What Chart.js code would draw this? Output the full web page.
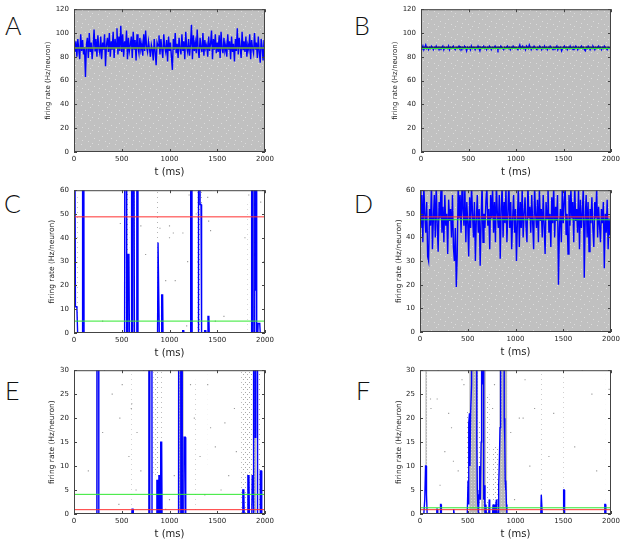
<!DOCTYPE html>
<html>
<head>
<meta charset="utf-8">
<script src="https://cdn.jsdelivr.net/npm/chart.js@4.4.1/dist/chart.umd.min.js"></script>
<style>
  html, body { margin: 0; padding: 0; background: #fff; }
  #fig { position: relative; width: 625px; height: 540px; overflow: hidden; }
  .panel { position: absolute; }
  .tag { position: absolute; font-family: Lato, 'Open Sans', sans-serif; font-weight: 300; font-size: 25px; line-height: 1; color: #111; }
</style>
</head>
<body>
<div id="fig">
  <div class="tag" style="left:5px;top:13px">A</div>
  <div class="tag" style="left:354px;top:13px">B</div>
  <div class="tag" style="left:4px;top:191px">C</div>
  <div class="tag" style="left:354px;top:191px">D</div>
  <div class="tag" style="left:5px;top:378px">E</div>
  <div class="tag" style="left:356px;top:378px">F</div>
  <canvas id="cA" class="panel" width="250" height="178" style="left:28px;top:0px"></canvas>
  <canvas id="cB" class="panel" width="250" height="178" style="left:374px;top:0px"></canvas>
  <canvas id="cC" class="panel" width="250" height="178" style="left:28px;top:181px"></canvas>
  <canvas id="cD" class="panel" width="250" height="177" style="left:374px;top:181px"></canvas>
  <canvas id="cE" class="panel" width="250" height="179" style="left:28px;top:361px"></canvas>
  <canvas id="cF" class="panel" width="250" height="179" style="left:374px;top:361px"></canvas>
</div>
<script>
// bin width of the population rate traces in A, B, D (ms)
const BIN_MS = 10;

// population rate, panel A (one value per 10 ms bin)
const aRate = [
  90, 84, 93, 80, 95, 86, 78, 99, 85, 94,
  82, 88, 63, 90, 96, 79, 100, 84, 92, 78,
  88, 103, 85, 95, 80, 98, 87, 83, 97, 78,
  92, 86, 99, 72, 90, 96, 84, 100, 80, 93,
  86, 101, 79, 95, 88, 104, 82, 97, 85, 106,
  84, 99, 80, 93, 87, 102, 78, 96, 85, 90,
  97, 79, 101, 86, 94, 77, 99, 88, 83, 96,
  86, 91, 81, 99, 85, 102, 88, 84, 93, 87,
  80, 90, 86, 77, 95, 84, 73, 92, 89, 98,
  82, 95, 86, 79, 99, 88, 84, 94, 76, 97,
  85, 92, 80, 69, 95, 86, 100, 83, 91, 79,
  96, 87, 82, 99, 85, 93, 78, 101, 88, 84,
  95, 81, 90, 107, 78, 98, 85, 92, 83, 103,
  86, 79, 96, 88, 84, 100, 81, 94, 87, 90,
  80, 97, 85, 91, 102, 78, 95, 86, 99, 83,
  92, 84, 98, 79, 101, 87, 83, 96, 85, 90,
  80, 99, 86, 93, 78, 97, 84, 91, 76, 95,
  85, 104, 82, 96, 88, 79, 101, 86, 93, 84,
  97, 80, 90, 86, 99, 78, 94, 87, 83, 100,
  86, 92, 79, 97, 84, 75, 95, 88, 77, 94
];

// population rate, panel B
const bRate = [
  88, 87, 89, 86, 88, 90, 87, 88, 86, 88,
  87, 89, 88, 86, 88, 87, 89, 87, 88, 86,
  88, 87, 88, 89, 86, 88, 87, 88, 87, 89,
  86, 88, 87, 88, 89, 87, 86, 88, 87, 88,
  89, 87, 88, 86, 88, 87, 89, 88, 85, 88,
  87, 88, 86, 89, 87, 88, 88, 86, 88, 87,
  89, 87, 85, 88, 87, 88, 89, 87, 88, 86,
  88, 87, 89, 88, 86, 88, 87, 88, 89, 87,
  88, 86, 88, 87, 89, 88, 87, 86, 88, 87,
  88, 89, 87, 88, 86, 88, 87, 89, 88, 87,
  88, 87, 86, 88, 90, 87, 88, 89, 87, 88,
  86, 89, 88, 87, 90, 88, 86, 88, 87, 89,
  88, 87, 86, 88, 87, 89, 88, 86, 88, 87,
  89, 87, 88, 86, 88, 87, 89, 88, 87, 86,
  88, 87, 88, 89, 86, 88, 87, 88, 85, 87,
  88, 89, 87, 88, 86, 88, 87, 89, 87, 88,
  86, 88, 87, 89, 88, 86, 88, 87, 88, 89,
  87, 88, 86, 85, 88, 87, 89, 88, 86, 88,
  87, 89, 88, 86, 88, 87, 88, 89, 87, 88,
  86, 88, 87, 89, 88, 87, 86, 88, 87, 88
];

// population rate, panel D (values above 60 are cut by the axis)
const dRate = [
  64, 44, 58, 38, 62, 50, 42, 55, 32, 30,
  52, 45, 63, 35, 48, 58, 40, 62, 46, 34,
  55, 48, 61, 42, 53, 38, 58, 45, 50, 33,
  56, 47, 52, 40, 58, 36, 30, 44, 19, 33,
  63, 48, 58, 42, 62, 52, 45, 61, 38, 55,
  46, 32, 57, 44, 62, 50, 40, 55, 30, 48,
  58, 42, 52, 28, 47, 63, 38, 50, 44, 55,
  62, 45, 52, 35, 58, 48, 61, 42, 55, 38,
  63, 50, 44, 58, 31, 52, 62, 40, 55, 46,
  61, 38, 50, 64, 44, 55, 35, 48, 58, 42,
  52, 30, 47, 62, 36, 55, 44, 61, 40, 50,
  57, 45, 38, 63, 48, 53, 42, 58, 46, 35,
  62, 50, 44, 56, 38, 61, 47, 52, 40, 58,
  45, 33, 55, 48, 63, 42, 50, 36, 57, 46,
  62, 40, 53, 47, 58, 20, 44, 52, 38, 61,
  46, 55, 62, 41, 50, 33, 58, 45, 61, 48,
  55, 38, 63, 47, 52, 42, 61, 35, 56, 44,
  50, 62, 23, 48, 58, 40, 55, 34, 52, 46,
  57, 44, 36, 55, 48, 61, 40, 53, 45, 38,
  52, 46, 55, 27, 50, 42, 56, 35, 48, 41
];

// bursty traces: time (ms) and rate, panels C, E, F (200 = off the top)
const cTimes = [0, 8, 15, 30, 38, 85, 90, 100, 105, 530, 535, 545, 552, 560, 563, 575, 580, 600, 603, 612, 618, 628, 633, 655, 658, 665, 670,
  875, 880, 888, 893, 915, 918, 928, 932, 1135, 1138, 1148, 1150, 1218, 1222, 1232, 1237, 1300, 1304, 1315, 1320, 1330, 1336,
  1365, 1368, 1380, 1383, 1400, 1403, 1412, 1416, 1855, 1860, 1870, 1875, 1885, 1890, 1895, 1903, 1908, 1913, 1925, 1928, 1945, 1950, 2000];
const cRates = [200, 200, 11, 11, 0, 0, 200, 200, 0, 0, 200, 200, 0, 0, 33, 33, 0, 0, 200, 0, 200, 200, 0, 0, 200, 200, 0,
  0, 38, 38, 0, 0, 16, 16, 0, 0, 1, 1, 0, 0, 200, 200, 0, 0, 200, 200, 54, 54, 0,
  0, 1, 1, 0, 0, 7, 7, 0, 0, 200, 200, 0, 0, 200, 18, 18, 200, 0, 0, 4, 4, 0, 0];

const eTimes = [0, 240, 245, 255, 260, 605, 608, 618, 621, 780, 785, 793, 800, 812, 817, 865, 868, 878, 882, 888, 890, 897, 900, 905, 908, 918, 922,
  1095, 1100, 1112, 1118, 1120, 1130, 1134, 1150, 1153, 1165, 1170, 1765, 1768, 1778, 1782, 1818, 1821, 1832, 1836,
  1862, 1866, 1875, 1878, 1880, 1884, 1893, 1897, 1903, 1918, 1922, 1948, 1951, 1962, 1966, 2000];
const eRates = [0, 0, 200, 200, 0, 0, 1, 1, 0, 0, 200, 0, 200, 200, 0, 0, 7, 7, 0, 0, 8, 8, 0, 0, 15, 15, 0,
  0, 200, 200, 0, 200, 200, 0, 0, 16, 16, 0, 0, 5, 5, 0, 0, 8, 8, 0,
  0, 8, 8, 0, 0, 200, 200, 16, 200, 200, 0, 0, 9, 9, 0, 0];

const fTimes = [0, 40, 50, 58, 63, 68, 75, 172, 176, 182, 186, 212, 215, 220, 224, 348, 350, 356, 358,
  495, 503, 508, 513, 518, 523, 530, 540, 548, 556, 560, 565, 575, 582, 588, 595, 600, 605, 612, 618, 622, 626, 632, 640, 645,
  650, 655, 660, 665, 670, 676, 680, 690, 695, 720, 725, 730, 760, 765, 770, 778, 783, 792, 795, 800, 805, 810,
  818, 822, 826, 832, 838, 844, 852, 858, 864, 876, 882, 888, 892, 896, 900, 905, 910,
  1265, 1270, 1276, 1280, 1500, 1504, 1510, 1514, 1932, 1935, 1942, 1946, 2000];
const fRates = [0, 0, 3, 10, 10, 4, 0, 0, 1, 1, 0, 0, 2, 2, 0, 0, 1, 1, 0,
  0, 7, 2, 19, 21, 10, 21, 27, 200, 200, 30, 200, 200, 30, 200, 15, 5, 2, 0, 4, 10, 6, 3, 15, 25,
  200, 27, 200, 10, 3, 6, 0, 2, 0, 0, 3, 0, 0, 2, 0, 2, 0, 0, 2, 3, 1, 0,
  0, 2, 6, 12, 18, 200, 200, 30, 200, 200, 20, 15, 7, 5, 7, 2, 0,
  0, 4, 4, 0, 0, 5, 5, 0, 0, 2, 2, 0, 0];

// horizontal reference levels, panels A..F
const redLevel   = [87.4, 88.1, 48.8, 48.7, 0.9, 0.9];
const greenLevel = [87.4, 87.0, 5.0, 47.5, 4.1, 1.3];

// raster columns [t0, t1, lowest, highest] for the sparse panels
const cDenseCols  = [[0, 8, 0, 60], [1865, 1895, 0, 60], [600, 640, 0, 60]];
const cSparseCols = [[25, 40, 0, 57], [540, 580, 0, 60], [870, 890, 0, 60], [1290, 1340, 0, 60], [1815, 1835, 0, 55]];
const eDenseCols  = [[232, 248, 0, 30], [775, 795, 0, 30], [1090, 1150, 0, 30], [1880, 1910, 0, 30]];
const eSparseCols = [[600, 610, 0, 30], [830, 880, 8, 30], [900, 920, 0, 30], [1750, 1960, 0, 30], [1270, 1280, 0, 28], [1990, 2000, 0, 30], [1400, 1410, 10, 30]];
const fDenseCols  = [[515, 610, 0, 30], [640, 690, 0, 30], [830, 915, 0, 30], [55, 75, 8, 30]];
const fSparseCols = [[490, 515, 0, 22], [610, 640, 0, 20], [690, 730, 0, 25], [760, 830, 0, 14], [1265, 1275, 0, 30], [1495, 1505, 0, 30], [1945, 1955, 0, 30], [40, 55, 0, 30]];

// isolated spikes [t, y]
const cDots = [[485, 46], [650, 60], [1000, 45], [1000, 40], [1040, 42], [960, 22], [1140, 42], [1190, 30], [1205, 58], [1400, 57], [1410, 47],
  [1430, 43], [1435, 60], [1180, 3], [1240, 60], [1325, 58], [1830, 58], [1790, 40], [1480, 5], [620, 3], [1060, 22], [900, 44],
  [1280, 50], [1300, 30], [1955, 55], [1990, 30], [700, 45], [750, 33], [300, 5], [1570, 7]];
const eDots = [[300, 17], [320, 30], [470, 2], [505, 27], [575, 12], [600, 22], [605, 23], [650, 5], [660, 17], [700, 9], [730, 30], [1000, 3],
  [1050, 8], [1220, 27], [1260, 20], [1320, 12], [1370, 4], [1400, 27], [1430, 18], [1480, 14], [1500, 30], [1540, 5], [1580, 19],
  [1620, 8], [1680, 22], [1700, 13], [150, 9], [400, 25], [480, 20], [960, 1]];
const fDots = [[110, 24], [115, 22], [180, 24], [190, 30], [210, 6], [260, 13], [300, 21], [330, 18], [350, 11], [400, 9], [440, 28], [460, 27],
  [1040, 20], [1080, 20], [1200, 22], [1350, 12], [1400, 21], [1700, 30], [1800, 25], [1850, 9], [1980, 26], [1150, 10], [1620, 14],
  [1100, 28], [950, 17], [990, 3], [760, 22], [780, 27]];

const FONT = 'DejaVu Sans';

// small repeating textures so raster areas read as dots rather than flat fills
function texture(w, h, base, spots, spotColor) {
  const c = document.createElement('canvas');
  c.width = w; c.height = h;
  const g = c.getContext('2d');
  if (base) { g.fillStyle = base; g.fillRect(0, 0, w, h); }
  g.fillStyle = spotColor;
  spots.forEach(([sx, sy]) => g.fillRect(sx, sy, 1, 1));
  return g.createPattern(c, 'repeat');
}
const denseBg   = texture(17, 13, '#c0c0c0', [[2, 1], [11, 3], [6, 6], [15, 8], [3, 10], [9, 11], [13, 0]], '#dcdcdc');
const denseCol  = texture(3, 3, '#b9b9b9', [[1, 1]], '#d8d8d8');
const sparseCol = texture(4, 5, null, [[1, 1], [3, 3]], '#a8a8a8');

// fills the plot area (dense raster) and draws gnuplot-style frame with inward ticks
const framePlugin = {
  id: 'frame',
  beforeDatasetsDraw(chart, args, opts) {
    if (!opts.bg) return;
    const { ctx, chartArea: a } = chart;
    ctx.save();
    ctx.fillStyle = opts.bg;
    ctx.fillRect(a.left, a.top, a.right - a.left, a.bottom - a.top);
    ctx.restore();
  },
  afterDatasetsDraw(chart) {
    const { ctx, chartArea: a, scales: { x, y } } = chart;
    ctx.save();
    ctx.strokeStyle = '#444';
    ctx.lineWidth = 1;
    ctx.strokeRect(a.left + 0.5, a.top + 0.5, a.right - a.left - 1, a.bottom - a.top - 1);
    ctx.beginPath();
    x.ticks.forEach(t => {
      const px = Math.round(x.getPixelForValue(t.value)) + 0.5;
      ctx.moveTo(px, a.bottom); ctx.lineTo(px, a.bottom - 3);
      ctx.moveTo(px, a.top);    ctx.lineTo(px, a.top + 3);
    });
    y.ticks.forEach(t => {
      const py = Math.round(y.getPixelForValue(t.value)) + 0.5;
      ctx.moveTo(a.left, py);  ctx.lineTo(a.left + 3, py);
      ctx.moveTo(a.right, py); ctx.lineTo(a.right - 3, py);
    });
    ctx.stroke();
    ctx.restore();
  },
};

const binned = rate => rate.map((v, i) => ({ x: i * BIN_MS, y: v }));
const paired = (ts, rs) => ts.map((t, i) => ({ x: t, y: rs[i] }));

function levelSet(y, color, order) {
  return { data: [{ x: 0, y }, { x: 2000, y }], borderColor: color, borderWidth: 1, pointRadius: 0, order };
}

function colSets(cols, fillStyle) {
  return cols.map(([t0, t1, lo, hi]) => ({
    data: [{ x: t0, y: hi }, { x: t1, y: hi }],
    fill: { value: lo }, backgroundColor: fillStyle, borderWidth: 0, pointRadius: 0, order: 6,
  }));
}

function dotSet(dots) {
  return {
    data: dots.map(([x, y]) => ({ x, y })), showLine: false,
    pointStyle: 'rect', pointRadius: 0.8, pointBorderWidth: 0, pointBackgroundColor: '#9a9a9a', order: 5,
  };
}

function makePanel(id, p) {
  const datasets = [
    ...(p.dense ? colSets(p.dense, denseCol) : []),
    ...(p.sparse ? colSets(p.sparse, sparseCol) : []),
    ...(p.dots ? [dotSet(p.dots)] : []),
    { data: p.rate, borderColor: '#0000ff', borderWidth: 1.4, pointRadius: 0, tension: 0, order: 3 },
    levelSet(redLevel[p.idx], p.redColor || '#ff3030', 2),
    levelSet(greenLevel[p.idx], '#30e830', 1),
  ];
  datasets.forEach(d => { d.clip = 0; d.type = 'line'; });

  return new Chart(document.getElementById(id), {
    type: 'line',
    data: { datasets },
    plugins: [framePlugin],
    options: {
      responsive: false,
      animation: false,
      events: [],
      layout: { padding: { top: 6, right: 13, left: 0, bottom: 0 } },
      plugins: { legend: { display: false }, tooltip: { enabled: false }, frame: { bg: p.bg } },
      scales: {
        x: {
          type: 'linear', min: 0, max: 2000,
          ticks: { stepSize: 500, color: '#222', font: { family: FONT, size: 7 }, padding: 3, maxRotation: 0, callback: v => String(v) },
          grid: { display: false, drawTicks: false }, border: { display: false },
          title: { display: true, text: 't (ms)', color: '#222', font: { family: FONT, size: 10 }, padding: { top: 1, bottom: 0 } },
          afterFit: s => { s.height = 26; },
        },
        y: {
          min: 0, max: p.yMax,
          ticks: { stepSize: p.yStep, color: '#222', font: { family: FONT, size: 7 }, padding: 5 },
          grid: { display: false, drawTicks: false }, border: { display: false },
          title: { display: true, text: 'firing rate (Hz/neuron)', color: '#222', font: { family: FONT, size: p.titleSize }, padding: { top: p.titlePad, bottom: 0 } },
          afterFit: s => { s.width = p.yWidth; },
        },
      },
    },
  });
}

makePanel('cA', { idx: 0, rate: binned(aRate), yMax: 120, yStep: 20, bg: denseBg, yWidth: 46, titleSize: 7, titlePad: 16 });
makePanel('cB', { idx: 1, rate: binned(bRate), yMax: 120, yStep: 20, bg: denseBg, yWidth: 47, titleSize: 7, titlePad: 17, redColor: '#2a2a3a' });
makePanel('cC', { idx: 2, rate: paired(cTimes, cRates), yMax: 60, yStep: 10, dense: cDenseCols, sparse: cSparseCols, dots: cDots, yWidth: 46, titleSize: 7.5, titlePad: 20 });
makePanel('cD', { idx: 3, rate: binned(dRate), yMax: 60, yStep: 10, bg: denseBg, yWidth: 46, titleSize: 7.5, titlePad: 21 });
makePanel('cE', { idx: 4, rate: paired(eTimes, eRates), yMax: 30, yStep: 5, dense: eDenseCols, sparse: eSparseCols, dots: eDots, yWidth: 46, titleSize: 7.5, titlePad: 20 });
makePanel('cF', { idx: 5, rate: paired(fTimes, fRates), yMax: 30, yStep: 5, dense: fDenseCols, sparse: fSparseCols, dots: fDots, yWidth: 46, titleSize: 7.5, titlePad: 21 });
</script>
</body>
</html>
